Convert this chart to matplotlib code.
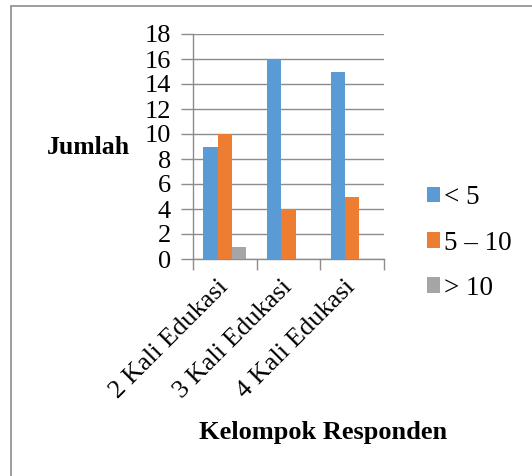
import matplotlib
matplotlib.use("Agg")
import matplotlib.pyplot as plt
from matplotlib.patches import Rectangle, Patch
import numpy as np

categories = ["2 Kali Edukasi", "3 Kali Edukasi", "4 Kali Edukasi"]
series_names = ["< 5", "5 \u2013 10", "> 10"]
vals_lt5 = [9, 16, 15]
vals_5_10 = [10, 4, 5]
vals_gt10 = [1, 0, 0]
yticks = [0, 2, 4, 6, 8, 10, 12, 14, 16, 18]
colors = ["#5B9BD5", "#ED7D31", "#A5A5A5"]

plt.rcParams['font.family'] = ['Liberation Serif', 'DejaVu Serif']

fig = plt.figure(figsize=(5.32, 4.76), dpi=100)
fig.patch.set_facecolor("white")
fig.patches.append(Rectangle((11/532, -0.1), 1.2, (476-6)/476 + 0.1, transform=fig.transFigure,
                             fill=False, edgecolor="#8c8c8c", linewidth=1.2, figure=fig))

ax = fig.add_axes([193/532, (476-259)/476, (384-193)/532, (259-34)/476])
x = np.arange(len(categories))
w = 0.224
for i, (vals, c, n) in enumerate(zip([vals_lt5, vals_5_10, vals_gt10], colors, series_names)):
    ax.bar(x + (i - 1) * w, vals, width=w, color=c, label=n, zorder=3)

ax.set_xlim(-0.5, 2.5)
ax.set_ylim(0, 18)
ax.set_yticks(yticks)
ax.set_yticklabels([str(v) for v in yticks])
ax.yaxis.grid(True, color="#8c8c8c", linewidth=1.0, zorder=0)
ax.tick_params(axis='y', length=9, width=1.0, color="#8c8c8c", pad=7, labelsize=19)
ax.set_xticks(x)
ax.set_xticklabels(categories, rotation=45, ha='right', va='center', rotation_mode='anchor', fontsize=19)
ax.tick_params(axis='x', which='major', length=0, pad=18)
ax.set_xticks([-0.5, 0.5, 1.5, 2.5], minor=True)
ax.tick_params(axis='x', which='minor', length=8, width=1.0, color="#8c8c8c")
for s in ['top', 'right']:
    ax.spines[s].set_visible(False)
for s in ['left', 'bottom']:
    ax.spines[s].set_color("#8c8c8c")
    ax.spines[s].set_linewidth(1.0)

fig.text(88/532, 1 - 148/476, "Jumlah", fontsize=18.5, fontweight='bold', ha='center', va='center')
fig.text(323/532, 1 - 433/476, "Kelompok Responden", fontsize=19, fontweight='bold', ha='center', va='center')

handles = [Patch(facecolor=c, edgecolor='none') for c in colors]
fig.legend(handles, series_names, loc='center left', bbox_to_anchor=(413/532, 1 - 243/476),
           frameon=False, fontsize=19.5, handlelength=0.5, handleheight=0.5, handletextpad=0.15,
           labelspacing=0.75, borderpad=0)

fig.savefig("out.png", dpi=100, facecolor="white")
